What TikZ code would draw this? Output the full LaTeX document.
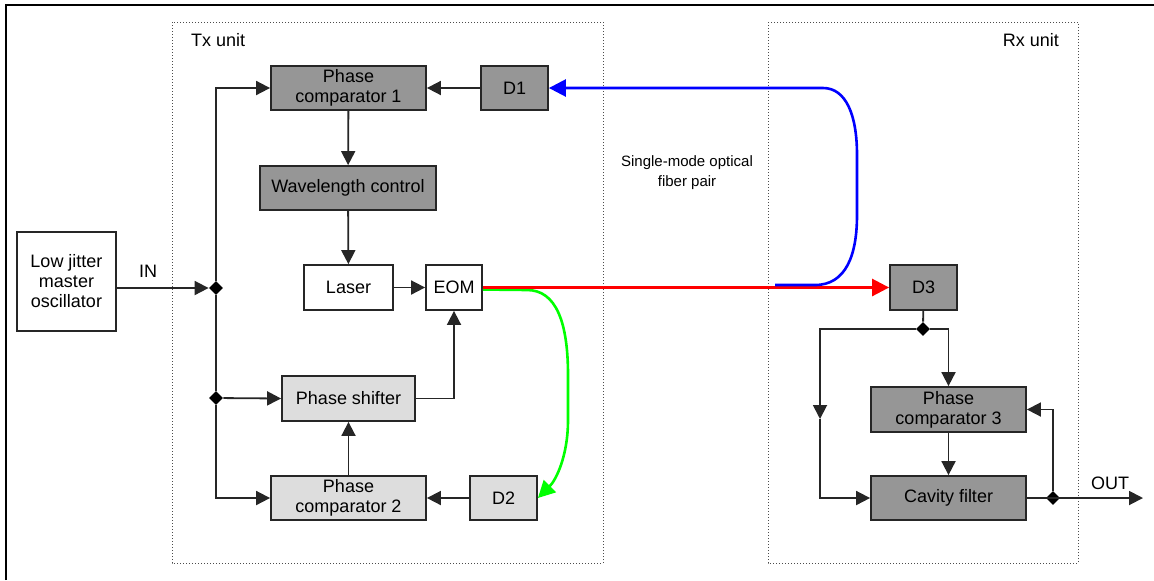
\documentclass[tikz,border=0pt]{standalone}
\usepackage{fontspec}
\setmainfont{Liberation Sans}
\usetikzlibrary{arrows.meta,shapes.geometric}

\definecolor{boxdark}{RGB}{150,150,150}
\definecolor{boxlight}{RGB}{221,221,221}

\begin{document}
\begin{tikzpicture}[
            x=0.5pt, y=-0.5pt,
            font=\fontsize{9}{10}\selectfont,
            blk/.style={
                rectangle,
                draw=black!85,
                line width=0.9pt,
                inner sep=0pt,
                minimum height=22pt,
                align=center
            },
            dk/.style={blk, fill=boxdark},
            lt/.style={blk, fill=boxlight},
            wt/.style={blk, fill=white},
            unit/.style={draw=black!70, densely dotted, line width=0.5pt},
            jn/.style={diamond, fill=black, inner sep=0pt, minimum size=7pt},
            wire/.style={line width=0.9pt, black!85},
            sig/.style={wire, -{Triangle[length=7pt,width=7pt]}},
            fib/.style={line width=1.3pt, -{Triangle[length=8.5pt,width=8.5pt]}}
        ]
        \useasboundingbox (0,0) rectangle (1154,580);

        % frame and units
        \draw[line width=1pt] (6,580) -- (6,5) -- (1154,5);
        \draw[unit] (172,22) rectangle (603,563);
        \draw[unit] (768,22) rectangle (1078,563);
        \node[anchor=west] (txlbl) at (184,40) {Tx unit};
        \node[anchor=east] (rxlbl) at (1066,40) {Rx unit};

        % nodes
        \node[wt, minimum width=49.5pt, minimum height=49.5pt] (osc) at (66.5,281.5) {Low jitter\\master\\oscillator};
        \node[dk, minimum width=77.5pt] (pc1) at (348.5,88) {Phase\\comparator 1};
        \node[dk, minimum width=33.5pt] (d1) at (514.5,88) {D1};
        \node[dk, minimum width=88pt] (wl) at (348,188) {Wavelength control};
        \node[wt, minimum width=44.5pt, minimum height=22.5pt] (laser) at (348.5,287.5) {Laser};
        \node[wt, minimum width=28pt, minimum height=22.5pt] (eom) at (454,287.5) {EOM};
        \node[lt, minimum width=66.5pt, minimum height=22.5pt] (ps) at (348.5,398.5) {Phase shifter};
        \node[lt, minimum width=77.5pt] (pc2) at (348.5,498) {Phase\\comparator 2};
        \node[lt, minimum width=33.5pt] (d2) at (503.5,498) {D2};
        \node[dk, minimum width=33.5pt, minimum height=22.5pt] (d3) at (923.5,287.5) {D3};
        \node[dk, minimum width=77.5pt, minimum height=22.5pt] (pc3) at (948.5,409.5) {Phase\\comparator 3};
        \node[dk, minimum width=77.5pt] (cav) at (948.5,498) {Cavity filter};
        \node[align=center, font=\fontsize{7.5}{10}\selectfont] (fiber) at (687,173) {Single-mode optical\\fiber pair};
        \node (inlbl) at (148,271) {IN};
        \node (outlbl) at (1110,483) {OUT};

        % junctions
        \node[jn] (j1) at (216,288) {};
        \node[jn] (j2) at (216,398) {};
        \node[jn] (j3) at (923,329) {};
        \node[jn] (j4) at (1053,498) {};
        \coordinate (lmid) at (820,419);
        \coordinate (outp) at (1143,498);
        \coordinate (fiberin) at (775,285);

        % lines
        \draw[sig] (osc.east |- j1) -- (j1);
        \draw[wire] (j1) -- (j2);
        \draw[sig] (j1) |- (pc1.west);
        \draw[sig] (j2) -- (ps.west);
        \draw[sig] (j2) |- (pc2.west);
        \draw[sig] (d1) -- (pc1);
        \draw[sig] (pc1) -- (wl);
        \draw[sig] (wl) -- (laser);
        \draw[sig] (laser) -- (eom);
        \draw[sig] (ps.east) -| (eom.south);
        \draw[sig] (pc2) -- (ps);
        \draw[sig] (d2) -- (pc2);

        \draw[wire] (d3) -- (j3);
        \draw[sig] (j3) -| (lmid);
        \draw[sig] (lmid) |- (cav.west);
        \draw[sig] (j3) -| (pc3.north);
        \draw[sig] (pc3) -- (cav);
        \draw[sig] (cav.east) -- (outp);
        \draw[sig] (j4) |- (pc3.east);

        % fibers
        \draw[fib, green] ([yshift=-1pt]eom.east) -- (527,290) .. controls (556,290) and (568,322) .. (568,375) -- (568,420) .. controls (568,456) and (556,480) .. (d2.east);
        \draw[fib, red] (eom.east) -- (d3.west);
        \draw[fib, blue] (fiberin) -- (815,285) .. controls (846,285) and (857,255) .. (857,215) -- (857,155) .. controls (857,115) and (846,88) .. (823,88) -- (d1.east);
    \end{tikzpicture}
\end{document}
